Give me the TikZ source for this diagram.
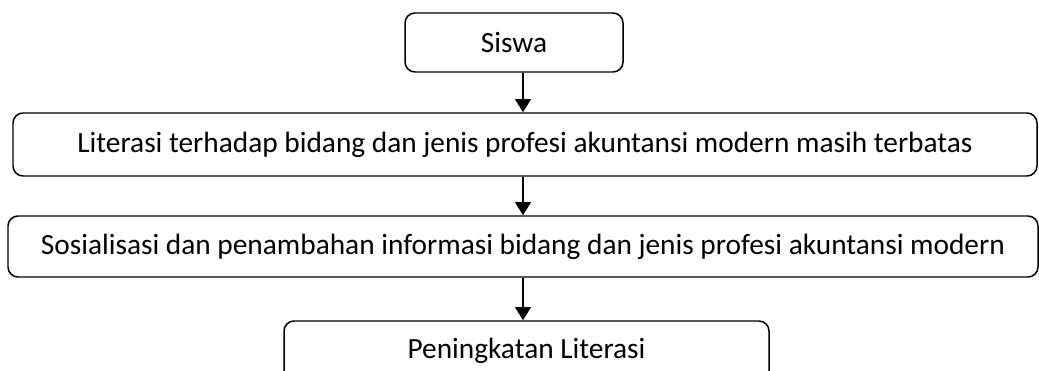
\documentclass[tikz,border=0pt]{standalone}
\usepackage{fontspec}
\setmainfont{Carlito}
\usetikzlibrary{shapes,arrows.meta,positioning}

\begin{document}
\begin{tikzpicture}[node distance=2.04cm, auto]
    % Define styles
    \tikzstyle{box} = [draw, rectangle, line width=0.85pt, rounded corners=0.2cm, text centered, inner sep=0pt, font=\fontsize{16.7}{20}\selectfont]
    \tikzstyle{arrow} = [line width=1.1pt, ->, >={Triangle[length=7.5pt, width=9pt]}]

    % Page size
    \useasboundingbox (0,0) rectangle (20.78,-7.42);

    % Top: students
    \node[box, minimum width=4.36cm, minimum height=1.18cm] (siswa) at (10.28,-0.85) {Siswa};

    % Problem
    \node[box, minimum width=20.48cm, minimum height=1.26cm, below of=siswa, xshift=0.22cm] (literasi) {Literasi terhadap bidang dan jenis profesi akuntansi modern masih terbatas};

    % Solution
    \node[box, minimum width=20.6cm, minimum height=1.22cm, below of=literasi, xshift=-0.04cm] (sosialisasi) {Sosialisasi dan penambahan informasi bidang dan jenis profesi akuntansi modern};

    % Result
    \node[box, minimum width=9.7cm, minimum height=1.2cm, below of=sosialisasi, yshift=-0.05cm, xshift=0.07cm] (peningkatan) {Peningkatan Literasi};

    % Arrows
    \draw[arrow] (siswa.south -| sosialisasi) -- (literasi.north -| sosialisasi);
    \draw[arrow] (literasi.south -| sosialisasi) -- (sosialisasi.north);
    \draw[arrow] (sosialisasi.south) -- (peningkatan.north -| sosialisasi);
\end{tikzpicture}
\end{document}
